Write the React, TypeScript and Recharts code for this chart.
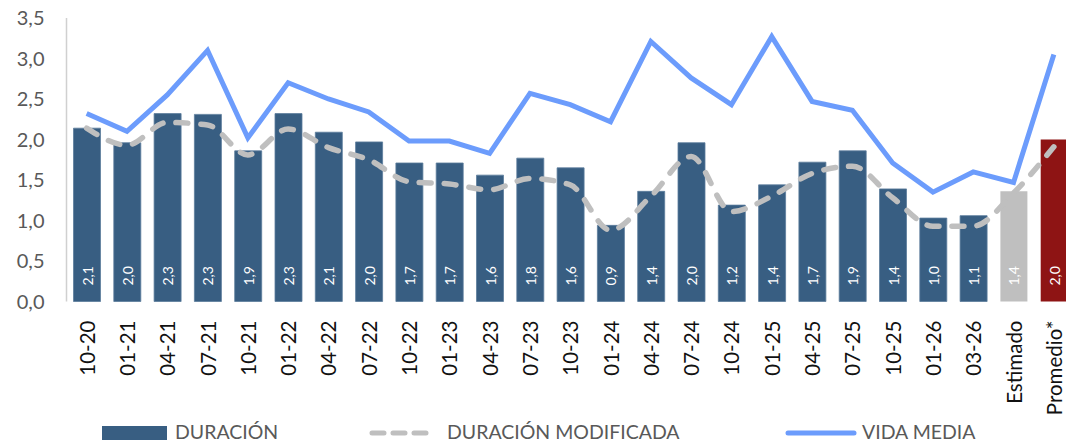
import React from "react";
import {
  ComposedChart, Bar, Line, Cell, XAxis, YAxis, LabelList,
} from "recharts";

const categories = [
  "10-20", "01-21", "04-21", "07-21", "10-21", "01-22", "04-22", "07-22", "10-22",
  "01-23", "04-23", "07-23", "10-23", "01-24", "04-24", "07-24", "10-24", "01-25",
  "04-25", "07-25", "10-25", "01-26", "03-26", "Estimado", "Promedio*",
];

const duracion = [
  2.14, 1.96, 2.32, 2.31, 1.86, 2.32, 2.09, 1.97, 1.71, 1.71, 1.56, 1.77, 1.65,
  0.94, 1.36, 1.96, 1.19, 1.44, 1.72, 1.86, 1.39, 1.03, 1.06, 1.36, 2.0,
];

const duracionModificada = [
  2.14, 1.93, 2.21, 2.18, 1.81, 2.13, 1.9, 1.75, 1.48, 1.45, 1.38, 1.52, 1.44,
  0.88, 1.3, 1.79, 1.11, 1.3, 1.58, 1.67, 1.28, 0.93, 0.93, 1.34, 1.91,
];

const vidaMedia = [
  2.32, 2.1, 2.55, 3.1, 2.02, 2.7, 2.5, 2.34, 1.98, 1.98, 1.83, 2.57, 2.43,
  2.22, 3.21, 2.76, 2.43, 3.27, 2.47, 2.36, 1.71, 1.35, 1.6, 1.47, 3.05,
];

const yTicks = [0, 0.5, 1, 1.5, 2, 2.5, 3, 3.5];

const BAR_COLOR = "#385E82";
const ESTIMADO_COLOR = "#BFBFBF";
const PROMEDIO_COLOR = "#8E1414";
const DASH_COLOR = "#BFBFBF";
const LINE_COLOR = "#6C9CFC";
const FONT = "Lato, 'Open Sans', sans-serif";

const data = categories.map((name, i) => ({
  name,
  duracion: duracion[i],
  modificada: duracionModificada[i],
  vida: vidaMedia[i],
}));

const fmt = (v: number) => v.toFixed(1).replace(".", ",");

const barColor = (name: string) =>
  name === "Estimado" ? ESTIMADO_COLOR : name === "Promedio*" ? PROMEDIO_COLOR : BAR_COLOR;

function XTick(props: any) {
  const { x, y, payload } = props;
  return (
    <text
      transform={`translate(${x},${y + 17}) rotate(-90)`}
      textAnchor="end"
      dominantBaseline="central"
      fontSize={20.5}
      fontFamily={FONT}
      fill="#111"
    >
      {payload.value}
    </text>
  );
}

function BarValue(props: any) {
  const { x, y, width, height, value } = props;
  const cx = x + width / 2;
  const by = y + height - 16;
  return (
    <text
      transform={`translate(${cx},${by}) rotate(-90)`}
      textAnchor="start"
      dominantBaseline="central"
      fontSize={14}
      fontFamily={FONT}
      fill="#fff"
    >
      {fmt(value)}
    </text>
  );
}

function LegendRow() {
  const txt: React.CSSProperties = {
    position: "absolute",
    top: 420,
    fontSize: 19.5,
    fontFamily: FONT,
    color: "#595959",
    lineHeight: "24px",
  };
  return (
    <>
      <div style={{ position: "absolute", left: 102, top: 426, width: 65, height: 14, background: BAR_COLOR }} />
      <div style={{ ...txt, left: 175 }}>DURACIÓN</div>
      <svg style={{ position: "absolute", left: 368, top: 425 }} width={68} height={16}>
        <line x1={4} y1={8} x2={64} y2={8} stroke={DASH_COLOR} strokeWidth={5} strokeDasharray="12 9" strokeLinecap="round" />
      </svg>
      <div style={{ ...txt, left: 447 }}>DURACIÓN MODIFICADA</div>
      <svg style={{ position: "absolute", left: 785, top: 425 }} width={72} height={16}>
        <line x1={3} y1={8} x2={69} y2={8} stroke={LINE_COLOR} strokeWidth={5} strokeLinecap="round" />
      </svg>
      <div style={{ ...txt, left: 862 }}>VIDA MEDIA</div>
    </>
  );
}

export default function App() {
  return (
    <div
      style={{
        position: "absolute", left: 0, top: 0, width: 1066, height: 444,
        overflow: "hidden", background: "#fff",
      }}
    >
      <ComposedChart
        width={1090}
        height={444}
        data={data}
        margin={{ top: 18, right: 16, bottom: 0, left: 0 }}
      >
        <XAxis
          dataKey="name"
          interval={0}
          tick={<XTick />}
          tickLine={false}
          axisLine={false}
          tickSize={0}
          height={142.5}
        />
        <YAxis
          domain={[0, 3.5]}
          ticks={yTicks}
          tickFormatter={fmt}
          tick={{ fontSize: 20, fill: "#595959", fontFamily: FONT }}
          tickLine={false}
          tickSize={0}
          tickMargin={22}
          axisLine={{ stroke: "#D0D0D0", strokeWidth: 1.5 }}
          width={66.5}
        />
        <Bar dataKey="duracion" barSize={27} isAnimationActive={false}>
          {data.map((d) => (
            <Cell
              key={d.name}
              fill={barColor(d.name)}
              stroke={d.name === "Estimado" || d.name === "Promedio*" ? "none" : "#5C7C9C"}
              strokeWidth={0.8}
            />
          ))}
          <LabelList dataKey="duracion" content={<BarValue />} />
        </Bar>
        <Line
          dataKey="modificada"
          type="monotone"
          stroke={DASH_COLOR}
          strokeWidth={5.5}
          strokeDasharray="12 13"
          strokeLinecap="round"
          dot={false}
          activeDot={false}
          isAnimationActive={false}
        />
        <Line
          dataKey="vida"
          type="linear"
          stroke={LINE_COLOR}
          strokeWidth={5}
          dot={false}
          activeDot={false}
          isAnimationActive={false}
        />
      </ComposedChart>
      <LegendRow />
    </div>
  );
}
